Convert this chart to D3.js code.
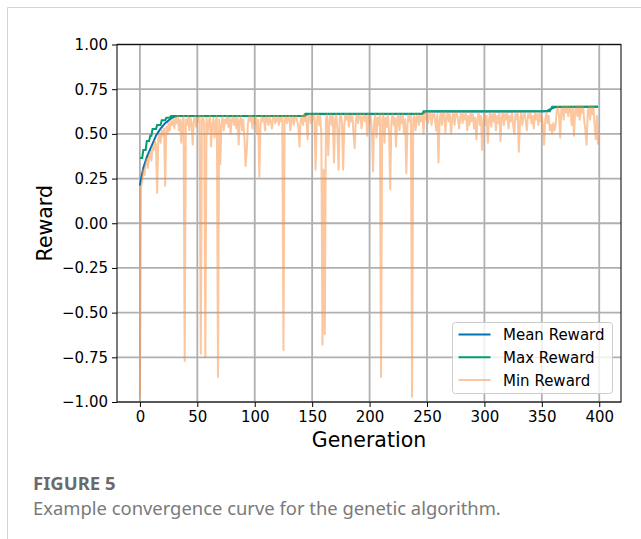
<!DOCTYPE html>
<html>
<head>
<meta charset="utf-8">
<script src="https://cdn.jsdelivr.net/npm/d3@7"></script>
<style>
  body { margin: 0; background: #fff; }
  svg { display: block; }
</style>
</head>
<body>
<div id="chart"></div>
<script>
// mean reward, read at a few generations (flat between them)
const meanGen = [0, 1, 2, 3, 4, 5, 6, 8, 10, 12, 14, 16, 18, 20, 22, 24, 26, 28, 30, 32, 143, 146, 246, 249, 352, 355, 358, 361, 364, 399];
const meanReward = [0.21, 0.25, 0.28, 0.31, 0.33, 0.35, 0.37, 0.40, 0.43, 0.46, 0.49, 0.51, 0.53, 0.545, 0.56, 0.57, 0.58, 0.59, 0.595, 0.60, 0.60, 0.611, 0.612, 0.625, 0.626, 0.63, 0.64, 0.648, 0.651, 0.652];

// max reward, stepwise
const maxGen = [0, 2, 3, 5, 6, 8, 9, 10, 11, 14, 15, 18, 19, 22, 23, 26, 27, 143, 144, 246, 247, 357, 359, 399];
const maxReward = [0.365, 0.365, 0.41, 0.41, 0.46, 0.46, 0.49, 0.49, 0.527, 0.527, 0.55, 0.55, 0.576, 0.576, 0.59, 0.59, 0.60, 0.60, 0.612, 0.612, 0.626, 0.626, 0.652, 0.652];

// min reward, one value per generation 0..399
const minReward = [
  -0.97, 0.20, 0.24, 0.30, 0.27, 0.33, 0.36, 0.31, 0.38, 0.40, 0.35, 0.43, 0.41, 0.46, 0.44, 0.17, 0.47, 0.50, 0.45, 0.52,
  0.49, 0.53, 0.21, 0.54, 0.50, 0.56, 0.52, 0.57, 0.55, 0.58, 0.53, 0.59, 0.56, 0.60, 0.52, 0.58, 0.45, 0.57, 0.60, -0.77,
  0.58, 0.55, 0.60, 0.52, 0.59, 0.56, 0.44, 0.58, 0.60, 0.54, 0.59, 0.57, 0.60, -0.73, 0.58, 0.60, 0.55, -0.75, 0.59, 0.50,
  0.57, 0.60, 0.43, 0.55, 0.59, 0.48, 0.57, 0.60, -0.86, 0.58, 0.33, 0.55, 0.60, 0.52, 0.58, 0.56, 0.60, 0.54, 0.59, 0.50,
  0.58, 0.60, 0.55, 0.59, 0.53, 0.60, 0.44, 0.57, 0.60, 0.52, 0.58, 0.48, 0.32, 0.40, 0.55, 0.60, 0.57, 0.60, 0.53, 0.59,
  0.56, 0.60, 0.50, 0.58, 0.26, 0.55, 0.60, 0.57, 0.59, 0.52, 0.60, 0.58, 0.55, 0.60, 0.57, 0.53, 0.59, 0.60, 0.56, 0.58,
  0.60, 0.55, 0.59, 0.57, 0.60, -0.71, 0.58, 0.60, 0.56, 0.59, 0.60, 0.52, 0.58, 0.60, 0.55, 0.59, 0.60, 0.57, 0.54, 0.43,
  0.58, 0.60, 0.55, 0.61, 0.57, 0.60, 0.47, 0.59, 0.61, 0.56, 0.60, 0.58, 0.61, 0.30, 0.57, 0.61, 0.55, 0.60, 0.50, -0.68,
  0.30, -0.62, 0.58, 0.61, 0.38, 0.57, 0.61, 0.55, 0.60, 0.34, 0.58, 0.61, 0.52, 0.30, 0.59, 0.61, 0.56, 0.30, 0.55, 0.61,
  0.58, 0.61, 0.54, 0.60, 0.57, 0.61, 0.50, 0.42, 0.58, 0.61, 0.56, 0.60, 0.61, 0.53, 0.59, 0.61, 0.57, 0.60, 0.49, 0.61,
  0.56, 0.60, 0.52, 0.29, 0.57, 0.61, 0.48, 0.59, 0.55, 0.61, -0.86, 0.58, 0.61, 0.45, 0.59, 0.54, 0.61, 0.50, 0.19, 0.57,
  0.61, 0.55, 0.59, 0.43, 0.58, 0.61, 0.52, 0.60, 0.56, 0.61, 0.50, 0.58, 0.28, 0.55, 0.61, 0.57, 0.60, -0.97, 0.58, 0.61,
  0.52, 0.59, 0.61, 0.55, 0.60, 0.57, 0.61, 0.50, 0.62, 0.58, 0.62, 0.56, 0.61, 0.62, 0.55, 0.60, 0.62, 0.58, 0.52, 0.61,
  0.34, 0.58, 0.62, 0.55, 0.61, 0.62, 0.51, 0.59, 0.62, 0.57, 0.61, 0.50, 0.59, 0.62, 0.55, 0.61, 0.62, 0.58, 0.53, 0.60,
  0.62, 0.56, 0.61, 0.58, 0.62, 0.52, 0.60, 0.55, 0.62, 0.57, 0.61, 0.53, 0.59, 0.47, 0.58, 0.62, 0.55, 0.60, 0.41, 0.57,
  0.62, 0.55, 0.60, 0.45, 0.58, 0.62, 0.54, 0.61, 0.57, 0.62, 0.52, 0.60, 0.56, 0.62, 0.46, 0.59, 0.62, 0.55, 0.61, 0.58,
  0.62, 0.53, 0.60, 0.57, 0.62, 0.55, 0.50, 0.61, 0.58, 0.62, 0.40, 0.57, 0.62, 0.55, 0.60, 0.62, 0.57, 0.52, 0.61, 0.59,
  0.62, 0.56, 0.60, 0.53, 0.62, 0.58, 0.61, 0.55, 0.62, 0.57, 0.60, 0.54, 0.44, 0.58, 0.62, 0.56, 0.60, 0.52, 0.55, 0.50,
  0.56, 0.52, 0.55, 0.63, 0.65, 0.60, 0.48, 0.64, 0.65, 0.58, 0.65, 0.62, 0.65, 0.60, 0.65, 0.64, 0.55, 0.65, 0.49, 0.63,
  0.65, 0.60, 0.65, 0.58, 0.65, 0.62, 0.65, 0.57, 0.52, 0.44, 0.63, 0.65, 0.58, 0.65, 0.61, 0.65, 0.55, 0.47, 0.60, 0.44
];

const xTicks = [0, 50, 100, 150, 200, 250, 300, 350, 400];
const yTicks = [-1, -0.75, -0.5, -0.25, 0, 0.25, 0.5, 0.75, 1];
const seriesNames = ['Mean Reward', 'Max Reward', 'Min Reward'];
const seriesColors = ['#0173b2', '#029e73', '#f98d3e'];

const W = 641, H = 539;
const plot = {left: 117, right: 621, top: 44.5, bottom: 402};
const font = '"DejaVu Sans", sans-serif';

const svg = d3.select('#chart').append('svg')
  .attr('width', W).attr('height', H)
  .style('font-family', font);

// figure frame (top and left only)
svg.append('path')
  .attr('d', `M7.5,${H} L7.5,7.5 L${W},7.5`)
  .attr('fill', 'none').attr('stroke', '#d4d4d4').attr('stroke-width', 1);

const x = d3.scaleLinear().domain([-19.95, 418.95]).range([plot.left, plot.right]);
const y = d3.scaleLinear().domain([-1, 1]).range([plot.bottom, plot.top]);

// grid
const grid = svg.append('g');
grid.selectAll('line.gx').data(xTicks).enter().append('line')
  .attr('x1', d => x(d)).attr('x2', d => x(d))
  .attr('y1', plot.top).attr('y2', plot.bottom)
  .attr('stroke', '#b0b0b0').attr('stroke-width', 1.8);
grid.selectAll('line.gy').data(yTicks).enter().append('line')
  .attr('y1', d => y(d)).attr('y2', d => y(d))
  .attr('x1', plot.left).attr('x2', plot.right)
  .attr('stroke', '#b0b0b0').attr('stroke-width', 1.8);

// clip
svg.append('clipPath').attr('id', 'clip').append('rect')
  .attr('x', plot.left).attr('y', plot.top)
  .attr('width', plot.right - plot.left).attr('height', plot.bottom - plot.top);

const lines = svg.append('g').attr('clip-path', 'url(#clip)');

const meanLine = d3.line().x((d, i) => x(meanGen[i])).y(d => y(d));
const maxLine = d3.line().x((d, i) => x(maxGen[i])).y(d => y(d));
const minLine = d3.line().x((d, i) => x(i)).y(d => y(d));

lines.append('path').attr('d', meanLine(meanReward))
  .attr('fill', 'none').attr('stroke', seriesColors[0]).attr('stroke-width', 2);
lines.append('path').attr('d', maxLine(maxReward))
  .attr('fill', 'none').attr('stroke', seriesColors[1]).attr('stroke-width', 2);
lines.append('path').attr('d', minLine(minReward))
  .attr('fill', 'none').attr('stroke', seriesColors[2]).attr('stroke-width', 2)
  .attr('stroke-opacity', 0.5).attr('stroke-linejoin', 'round');

// axes
const xAxis = svg.append('g')
  .attr('transform', `translate(0,${plot.bottom})`)
  .call(d3.axisBottom(x).tickValues(xTicks).tickSize(5).tickPadding(4).tickFormat(d3.format('d')));
const yAxis = svg.append('g')
  .attr('transform', `translate(${plot.left},0)`)
  .call(d3.axisLeft(y).tickValues(yTicks).tickSize(5).tickPadding(4).tickFormat(d3.format('.2f')));

[xAxis, yAxis].forEach(g => {
  g.attr('font-family', null).attr('font-size', null);
  g.select('.domain').remove();
  g.selectAll('.tick line').attr('stroke', '#000').attr('stroke-width', 1);
  g.selectAll('.tick text').attr('fill', '#000')
    .style('font-family', font).style('font-size', '15px');
});

// spines
svg.append('rect')
  .attr('x', plot.left).attr('y', plot.top)
  .attr('width', plot.right - plot.left).attr('height', plot.bottom - plot.top)
  .attr('fill', 'none').attr('stroke', '#111').attr('stroke-width', 1.1);

// axis titles
svg.append('text').text('Generation')
  .attr('x', (plot.left + plot.right) / 2).attr('y', 447)
  .attr('text-anchor', 'middle').style('font-size', '20.5px');
svg.append('text').text('Reward')
  .attr('transform', `translate(52,${(plot.top + plot.bottom) / 2}) rotate(-90)`)
  .attr('text-anchor', 'middle').style('font-size', '20.5px');

// legend
const lg = svg.append('g').attr('transform', 'translate(452.5,322.5)');
lg.append('rect').attr('width', 160).attr('height', 71).attr('rx', 3)
  .attr('fill', 'rgba(255,255,255,0.8)').attr('stroke', '#cccccc').attr('stroke-width', 1);
seriesNames.forEach((name, i) => {
  const yy = 12 + i * 22.8;
  lg.append('line').attr('x1', 6).attr('x2', 38).attr('y1', yy).attr('y2', yy)
    .attr('stroke', seriesColors[i]).attr('stroke-width', 2)
    .attr('stroke-opacity', i === 2 ? 0.5 : 1);
  lg.append('text').text(name).attr('x', 50.5).attr('y', yy + 5.5)
    .style('font-size', '15px');
});

// caption
svg.append('text').text('FIGURE 5')
  .attr('x', 33).attr('y', 489.5)
  .style('font-family', '"Noto Sans", sans-serif').style('font-weight', 'bold')
  .style('font-size', '18.5px').attr('fill', '#6a6a6a');
svg.append('text').text('Example convergence curve for the genetic algorithm.')
  .attr('x', 33).attr('y', 515)
  .style('font-family', '"Noto Sans", sans-serif')
  .style('font-size', '18.4px').attr('fill', '#7a7a7a');
</script>
</body>
</html>
